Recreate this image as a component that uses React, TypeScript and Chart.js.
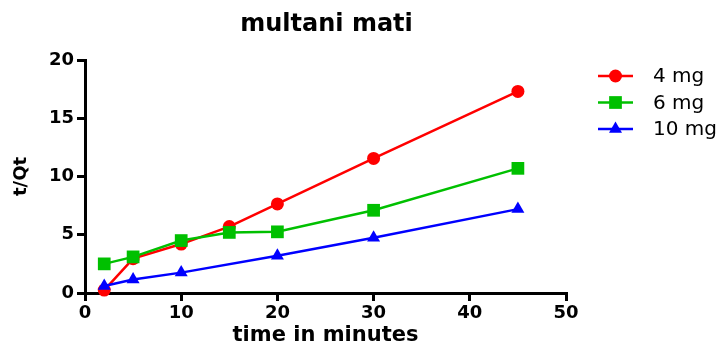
import React, { useEffect, useRef } from "react";
import { Chart, registerables } from "chart.js";

Chart.register(...registerables);

// ---- data ----
const chartTitle = "multani mati";
const xAxisTitle = "time in minutes";
const yAxisTitle = "t/Qt";
const seriesLabels = ["4 mg", "6 mg", "10 mg"];
const seriesColors = ["#ff0000", "#00c000", "#0000ff"];
const seriesMarkers = ["circle", "rect", "triangle"];
const timesRed = [2, 5, 10, 15, 20, 30, 45];
const valuesRed = [0.25, 2.95, 4.2, 5.7, 7.65, 11.55, 17.3];
const timesGreen = [2, 5, 10, 15, 20, 30, 45];
const valuesGreen = [2.5, 3.1, 4.5, 5.2, 5.25, 7.1, 10.7];
const timesBlue = [2, 5, 10, 20, 30, 45];
const valuesBlue = [0.6, 1.15, 1.75, 3.2, 4.75, 7.2];
const xTickValues = [0, 10, 20, 30, 40, 50];
const yTickValues = [0, 5, 10, 15, 20];

const FONT = "'DejaVu Sans', sans-serif";

function toPoints(xs: number[], ys: number[]) {
  return xs.map((x, i) => ({ x, y: ys[i] }));
}

function drawMarker(ctx: CanvasRenderingContext2D, style: string, x: number, y: number, r: number, color: string) {
  ctx.fillStyle = color;
  ctx.beginPath();
  if (style === "circle") {
    ctx.arc(x, y, r, 0, Math.PI * 2);
  } else if (style === "rect") {
    const s = r * Math.SQRT1_2;
    ctx.rect(x - s, y - s, 2 * s, 2 * s);
  } else {
    for (let k = 0; k < 3; k++) {
      const a = (k * 2 * Math.PI) / 3;
      const px = x + Math.sin(a) * r;
      const py = y - Math.cos(a) * r;
      if (k === 0) ctx.moveTo(px, py);
      else ctx.lineTo(px, py);
    }
    ctx.closePath();
  }
  ctx.fill();
}

const titlePlugin = {
  id: "centeredTitle",
  afterDraw(chart: any) {
    const { ctx, chartArea } = chart;
    ctx.save();
    ctx.font = `bold 24px ${FONT}`;
    ctx.fillStyle = "#000";
    ctx.textAlign = "center";
    ctx.textBaseline = "middle";
    ctx.fillText(chartTitle, (chartArea.left + chartArea.right) / 2 + 1, 25);
    ctx.restore();
  },
};

const legendPlugin = {
  id: "lineLegend",
  afterDraw(chart: any) {
    const { ctx } = chart;
    chart.data.datasets.forEach((ds: any, i: number) => {
      const y = 76 + i * 26.5;
      ctx.save();
      ctx.strokeStyle = ds.borderColor;
      ctx.lineWidth = 2.5;
      ctx.beginPath();
      ctx.moveTo(598, y);
      ctx.lineTo(633, y);
      ctx.stroke();
      drawMarker(ctx, ds.pointStyle, 615.5, y, ds.pointRadius, ds.backgroundColor);
      ctx.font = `20px ${FONT}`;
      ctx.fillStyle = "#000";
      ctx.textAlign = "left";
      ctx.textBaseline = "middle";
      ctx.fillText(ds.label, 653, y + 1);
      ctx.restore();
    });
  },
};

export default function App() {
  const ref = useRef<HTMLCanvasElement | null>(null);

  useEffect(() => {
    if (!ref.current) return;
    const xs = [timesRed, timesGreen, timesBlue];
    const ys = [valuesRed, valuesGreen, valuesBlue];
    const radii = [6.5, 9, 7.5];
    const datasets = seriesLabels.map((label, i) => ({
      label,
      data: toPoints(xs[i], ys[i]),
      borderColor: seriesColors[i],
      backgroundColor: seriesColors[i],
      pointBackgroundColor: seriesColors[i],
      pointBorderColor: seriesColors[i],
      pointStyle: seriesMarkers[i],
      pointRadius: radii[i],
      pointBorderWidth: 0,
      borderWidth: 2.5,
      tension: 0,
      order: 3 - i,
      clip: false as any,
    }));

    const chart = new Chart(ref.current, {
      type: "line",
      data: { datasets },
      plugins: [titlePlugin, legendPlugin],
      options: {
        animation: false,
        responsive: false,
        layout: { padding: { top: 60, right: 161, bottom: 0, left: 0 } },
        plugins: {
          legend: { display: false },
          title: { display: false },
          tooltip: { enabled: false },
        },
        scales: {
          x: {
            type: "linear",
            min: xTickValues[0],
            max: xTickValues[xTickValues.length - 1],
            afterFit: (s: any) => {
              s.height = 53;
            },
            afterBuildTicks: (s: any) => {
              s.ticks = xTickValues.map((v) => ({ value: v }));
            },
            ticks: {
              color: "#000",
              font: { family: FONT, size: 18, weight: "bold" },
              padding: 2,
              maxRotation: 0,
            },
            grid: {
              drawOnChartArea: false,
              drawTicks: true,
              tickLength: 8,
              color: "#000",
              lineWidth: 3,
            },
            border: { display: true, color: "#000", width: 3 },
            title: {
              display: true,
              text: xAxisTitle,
              color: "#000",
              font: { family: FONT, size: 21, weight: "bold", lineHeight: 1 },
              padding: { top: 0, bottom: 0 },
            },
          },
          y: {
            type: "linear",
            min: yTickValues[0],
            max: yTickValues[yTickValues.length - 1],
            afterFit: (s: any) => {
              s.width = 85;
            },
            afterBuildTicks: (s: any) => {
              s.ticks = yTickValues.map((v) => ({ value: v }));
            },
            ticks: {
              color: "#000",
              font: { family: FONT, size: 18, weight: "bold" },
              padding: 3,
            },
            grid: {
              drawOnChartArea: false,
              drawTicks: true,
              tickLength: 8,
              color: "#000",
              lineWidth: 3,
            },
            border: { display: true, color: "#000", width: 3 },
            title: {
              display: true,
              text: yAxisTitle,
              color: "#000",
              font: { family: FONT, size: 18, weight: "bold", lineHeight: 1 },
              padding: { top: 12, bottom: 0 },
            },
          },
        },
      } as any,
    });
    return () => chart.destroy();
  }, []);

  return (
    <div style={{ position: "fixed", left: 0, top: 0, width: 727, height: 346, background: "#fff" }}>
      <canvas ref={ref} width={727} height={346} style={{ width: 727, height: 346, display: "block" }} />
    </div>
  );
}
